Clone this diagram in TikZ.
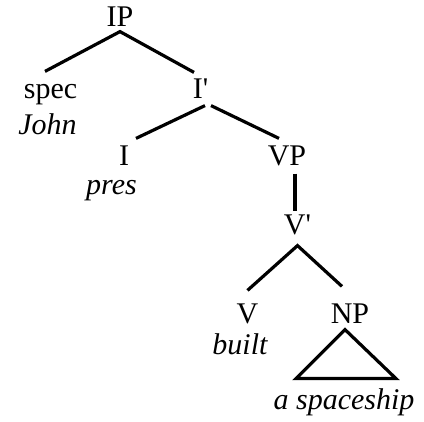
\documentclass[tikz,border=0pt]{standalone}
\usepackage{fontspec}
\setmainfont{Liberation Serif}
\begin{document}
\begin{tikzpicture}[x=1pt, y=-1pt, line width=3.2pt,
		cat/.style={anchor=base, inner xsep=0pt, inner ysep=4pt, text height=20pt, text depth=0pt, font=\fontsize{30}{36}\selectfont},
		word/.style={anchor=base, inner sep=0pt, font=\fontsize{30}{36}\selectfont\itshape}]
						\useasboundingbox (0,0) rectangle (424,422);

						\node[cat] (ip) at (120,27) {IP};
						\node[cat] (spec) at (50.5,99) {spec};
						\node[word] (john) at (47.5,135) {John};
						\node[cat] (ibar) at (200.5,99) {I\textquotesingle};
						\node[cat] (i) at (124,166) {I};
						\node[word] (pres) at (111.5,195) {pres};
						\node[cat] (vp) at (287,166) {VP};
						\node[cat] (vbar) at (297.5,235) {V\textquotesingle};
						\node[cat] (v) at (247.5,324) {V};
						\node[word] (built) at (240,355) {built};
						\node[cat] (np) at (350,324) {NP};
						\node[word] (obj) at (344,410) {a spaceship};

						\draw ([shift={(-5.5,-2)}]spec.north) -- ([shift={(0,-1)}]ip.south) -- ([shift={(-6.5,-1)}]ibar.north);
						\draw ([shift={(4.5,1)}]ibar.south) -- ([shift={(12,-2)}]i.north);
						\draw ([shift={(10.5,1)}]ibar.south) -- ([shift={(-8,-2)}]vp.north);
						\draw ([shift={(8,2)}]vp.south) -- ([shift={(-2.5,2)}]vbar.north);
						\draw ([shift={(0,-8)}]v.north) -- ([shift={(0,5)}]vbar.south) -- ([shift={(-8,-12)}]np.north);
						\draw ([shift={(-5,0)}]np.south) -- ++(-49,49) -- ++(100,0) -- cycle;
					\end{tikzpicture}
\end{document}
